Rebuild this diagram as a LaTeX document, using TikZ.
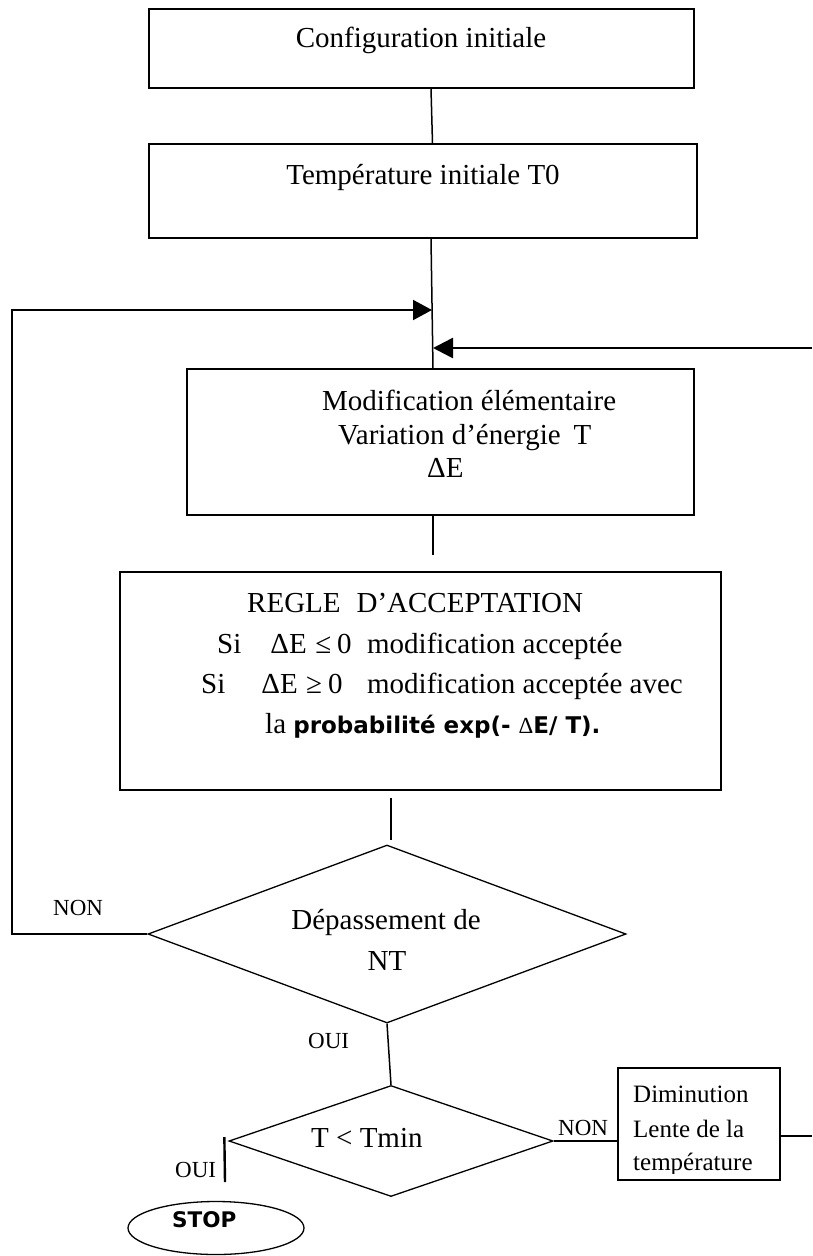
\documentclass[tikz,border=0pt]{standalone}
\usepackage{fontspec}
\setmainfont{Liberation Serif}
\newfontfamily\dvsans{DejaVu Sans}
\usetikzlibrary{arrows.meta,shapes.geometric}

\begin{document}
\begin{tikzpicture}[x=1pt,y=-1pt,
  box/.style={draw, rectangle, line width=1.3pt, inner sep=0pt},
  decision/.style={draw, diamond, line width=1.3pt, inner sep=0pt},
  txt/.style={inner sep=0pt, anchor=base, font=\fontsize{29}{35}\selectfont},
  ltxt/.style={txt, anchor=base west},
  small/.style={inner sep=0pt, anchor=base west, font=\fontsize{23}{28}\selectfont},
  dimtxt/.style={inner sep=0pt, anchor=base west, font=\fontsize{25}{30}\selectfont},
  link/.style={line width=1.5pt},
  loopline/.style={line width=2pt, -{Triangle[length=19pt,width=20pt]}},
  loopthick/.style={line width=2.6pt, -{Triangle[length=20pt,width=20pt]}}]

\useasboundingbox (0,0) rectangle (812,1256);

% ---- boxes ----
\node[box, minimum width=545pt, minimum height=79pt] (b1) at (421.5,48.5) {};
\node[txt] (t1) at (421,47) {Configuration initiale};

\node[box, minimum width=548pt, minimum height=94pt] (b2) at (423,191) {};
\node[txt] (t2) at (423,184) {Température initiale T0};

\node[box, minimum width=507pt, minimum height=146pt] (b3) at (440.5,442) {};
\node[ltxt] (t3a) at (322,410) {Modification élémentaire};
\node[ltxt] (t3b) at (338,444) {Variation d’énergie\hspace{13pt}T};
\node[ltxt] (t3c) at (427,477) {ΔE};

\node[box, minimum width=601pt, minimum height=218pt] (b4) at (420.5,681) {};
\node[ltxt] (t4a) at (247,612) {REGLE\hspace{16pt}D’ACCEPTATION};
\node[ltxt] (t4b) at (217,653) {Si\hspace{29pt}ΔE\hspace{8.5pt}≤\hspace{6pt}0\hspace{15.5pt}modification acceptée};
\node[ltxt] (t4c) at (201,693) {Si\hspace{36pt}ΔE\hspace{8.5pt}≥\hspace{6pt}0\hspace{24.5pt}modification acceptée avec};
\node[ltxt] (t4d) at (265,733) {la {\dvsans\bfseries\fontsize{23}{28}\selectfont probabilité exp(- {\rmfamily\mdseries Δ}E/ T).}};

% ---- decisions ----
\node[decision, minimum width=478pt, minimum height=178pt] (d1) at (387,934) {};
\node[txt] (t5a) at (386,929) {Dépassement de};
\node[txt] (t5b) at (387,970) {NT};

\node[decision, minimum width=324pt, minimum height=111pt] (d2) at (391,1141) {};
\node[ltxt] (t6) at (311,1147) {T < Tmin};

% ---- temperature decrease box ----
\node[box, minimum width=162pt, minimum height=112pt] (dim) at (699,1124) {};
\node[dimtxt] (t7a) at (633,1102) {Diminution};
\node[dimtxt] (t7b) at (633,1137) {Lente de la};
\begin{scope}
  \clip (dim.north west) rectangle (780,1173);
  \node[dimtxt] (t7c) at (633,1170) {température};
\end{scope}

% ---- stop ----
\node[draw, ellipse, line width=1.3pt, minimum width=176pt, minimum height=53pt, inner sep=0pt] (stop) at (216,1228) {};
\node[inner sep=0pt, anchor=base west, font=\dvsans\bfseries\fontsize{21.5}{26}\selectfont] (t8) at (172,1227) {STOP};

% ---- labels ----
\node[small] (l1) at (53,915) {NON};
\node[small] (l2) at (308,1048) {OUI};
\node[small] (l3) at (175,1177) {OUI};
\node[small] (l4) at (558,1135) {NON};

% ---- junction points and free ends ----
\coordinate (jl) at (432,310);
\coordinate (jr) at (433,348);
\coordinate (ll) at (12,310);
\coordinate (rt) at (812,348);
\coordinate (re) at (812,1136);
\coordinate (g1) at (433,555);
\coordinate (g2a) at (391,798);
\coordinate (g2b) at (391,840);
\coordinate (s1) at (225,1182);

% ---- connectors ----
\draw[link] ([xshift=9.5pt]b1.south) -- ([xshift=9.5pt]b2.north);
\draw[link] ([xshift=8pt]b2.south) -- ([xshift=-7.5pt]b3.north);
\draw[link] ([xshift=-7.5pt]b3.south) -- (g1);
\draw[link] (g2a) -- (g2b);
\draw[link] (d1.south) -- (d2.north);
\draw[link] (d2.east) -- (d2.east -| dim.west);
\draw[link] ([shift={(0,12)}]dim.east) -- (re);
\draw[line width=2.4pt] ([shift={(-4,-4)}]d2.west) -- (s1);

% return loops
\draw[loopline] (d1.west) -| (ll) -- (jl);
\draw[loopthick] (rt) -- (jr);

\end{tikzpicture}
\end{document}
